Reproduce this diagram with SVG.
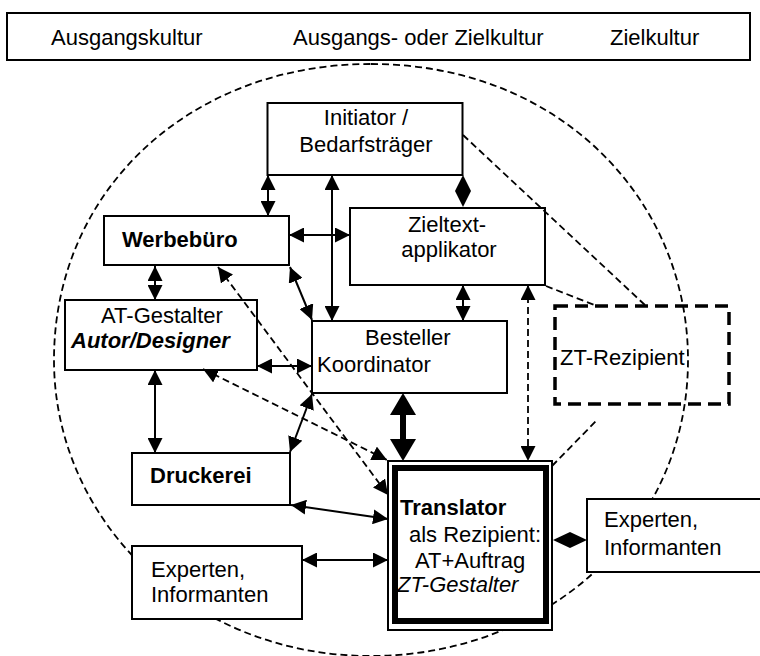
<svg xmlns="http://www.w3.org/2000/svg" width="760" height="656" viewBox="0 0 760 656">
<style>
text{font-family:"Liberation Sans",Arial,sans-serif;font-size:22px;fill:#000}
.b{font-weight:bold}
.bi{font-weight:bold;font-style:italic}
.i{font-style:italic}
.box{fill:#fff;stroke:#000;stroke-width:2}
.ln{stroke:#000;stroke-width:2;fill:none}
.arr{marker-start:url(#ah);marker-end:url(#ah)}
.dash{stroke:#000;stroke-width:1.8;fill:none;stroke-dasharray:7 4}
</style>
<defs>
<marker id="ah" viewBox="0 0 15 15" refX="15" refY="7.5" markerWidth="15" markerHeight="15" markerUnits="userSpaceOnUse" orient="auto-start-reverse"><path d="M0,0 L15,7.5 L0,15 z" fill="#000"/></marker>
<marker id="ahb" viewBox="0 0 22 26" refX="12" refY="13" markerWidth="22" markerHeight="26" markerUnits="userSpaceOnUse" orient="auto-start-reverse"><path d="M0,0 L22,13 L0,26 z" fill="#000"/></marker>
</defs>
<rect width="760" height="656" fill="#fff"/>
<g id="kulturleiste">
<rect x="7" y="13" width="743" height="47" fill="#fff" stroke="#000" stroke-width="2"/>
<text x="51" y="45">Ausgangskultur</text>
<text x="293" y="45">Ausgangs- oder Zielkultur</text>
<text x="610" y="45">Zielkultur</text>
</g>
<path id="kulturkreis" class="dash" stroke-width="2" stroke-dasharray="8 5" d="M371,64 C560,64 688,200 688,360 C688,530 545,656 371,656 C190,656 54,520 54,360 C54,190 190,64 371,64 Z"/>
<g id="initiator">
<rect class="box" x="267.5" y="103" width="195" height="72"/>
<text x="366" y="125" text-anchor="middle">Initiator /</text>
<text x="366" y="152" text-anchor="middle">Bedarfsträger</text>
</g>
<g id="werbebuero">
<rect class="box" x="104" y="216" width="185" height="49"/>
<text class="b" x="122" y="247">Werbebüro</text>
</g>
<g id="zieltextapplikator">
<rect class="box" x="350" y="208" width="195" height="77"/>
<text x="447" y="232" text-anchor="middle">Zieltext-</text>
<text x="449" y="257" text-anchor="middle">applikator</text>
</g>
<g id="atgestalter">
<rect class="box" x="65" y="300" width="192" height="70"/>
<text x="162" y="323" text-anchor="middle">AT-Gestalter</text>
<text class="bi" x="71" y="348">Autor/Designer</text>
</g>
<g id="besteller">
<rect class="box" x="312" y="321" width="195" height="72" stroke-width="3.2"/>
<text x="365" y="345">Besteller</text>
<text x="317" y="372">Koordinator</text>
</g>
<g id="ztrezipient">
<rect x="555" y="306" width="174" height="98" fill="none" stroke="#000" stroke-width="3.5" stroke-dasharray="13 7"/>
<text x="560" y="365">ZT-Rezipient</text>
</g>
<g id="druckerei">
<rect class="box" x="132" y="453" width="158" height="52"/>
<text class="b" x="150" y="483">Druckerei</text>
</g>
<g id="translator">
<rect class="box" x="388" y="461" width="164" height="169" stroke-width="1.6"/>
<rect x="395" y="468" width="151" height="153" fill="none" stroke="#000" stroke-width="6"/>
<text class="b" x="400" y="515">Translator</text>
<text x="409" y="542">als Rezipient:</text>
<text x="415" y="568">AT+Auftrag</text>
<text class="i" x="397" y="592">ZT-Gestalter</text>
</g>
<g id="experten_rechts">
<rect class="box" x="587" y="499" width="176" height="73"/>
<text x="604" y="527">Experten,</text>
<text x="604" y="555">Informanten</text>
</g>
<g id="experten_links">
<rect class="box" x="132" y="546" width="170" height="73"/>
<text x="151" y="577">Experten,</text>
<text x="151" y="602">Informanten</text>
</g>
<g id="connectors">
<line class="ln arr" x1="268" y1="175" x2="268" y2="216"/>
<line class="ln arr" x1="332" y1="175" x2="332" y2="321"/>
<polygon points="463,175 471,191 463,207 455,191" fill="#000"/>
<line class="ln arr" x1="289" y1="235" x2="350" y2="235"/>
<line class="ln arr" x1="155" y1="266" x2="155" y2="300"/>
<line class="ln arr" x1="290" y1="267" x2="312" y2="320"/>
<line class="ln arr" x1="463" y1="285" x2="463" y2="321"/>
<line class="dash arr" x1="528" y1="285" x2="528" y2="461"/>
<line class="ln arr" x1="257" y1="366" x2="312" y2="366"/>
<line class="ln arr" x1="155" y1="370" x2="155" y2="453"/>
<line class="dash arr" x1="203" y1="369" x2="387" y2="460"/>
<line class="dash arr" x1="218" y1="267" x2="388" y2="495"/>
<line class="ln arr" x1="312" y1="394" x2="290" y2="452"/>
<line x1="403" y1="403" x2="403" y2="451" stroke="#000" stroke-width="6" marker-start="url(#ahb)" marker-end="url(#ahb)"/>
<line class="ln arr" x1="291" y1="505" x2="388" y2="519"/>
<line class="ln arr" x1="302" y1="560" x2="388" y2="560"/>
<polygon points="553,540 570,532 587,540 570,548" fill="#000"/>
<line class="dash" x1="463" y1="135" x2="646" y2="306"/>
<line class="dash" x1="546" y1="286" x2="597" y2="306"/>
<line class="dash" x1="552" y1="466" x2="597" y2="420"/>
</g>
</svg>
